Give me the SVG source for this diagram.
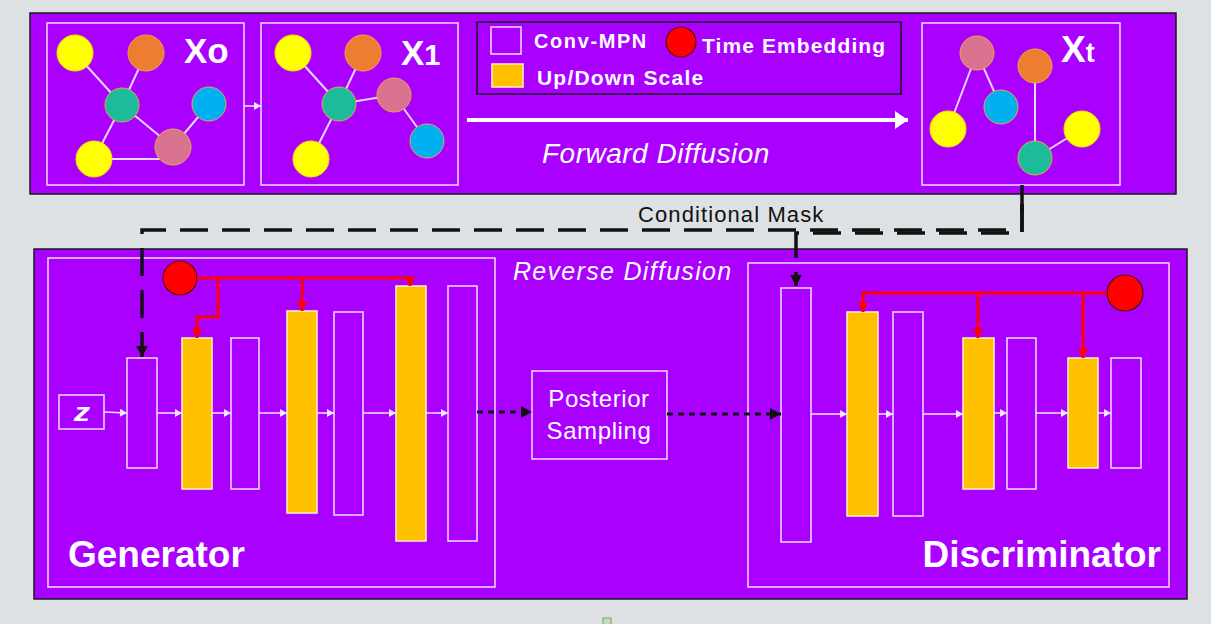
<svg xmlns="http://www.w3.org/2000/svg" width="1211" height="624" viewBox="0 0 1211 624">
  <style>
    .panel { fill: #AA00FF; stroke: #1a1a1a; stroke-width: 1.5; }
    .frame { fill: none; stroke: #F0E0FF; stroke-width: 1.5; }
    .conv { fill: #AA00FF; stroke: #F0E0FF; stroke-width: 1.5; }
    .scale { fill: #FFC000; stroke: #FFF3C0; stroke-width: 1.5; }
    .edge { stroke: #EAD6FF; stroke-width: 2; fill: none; }
    .node { stroke: #E9A646; stroke-width: 1; }
    .yel { fill: #FFFF00; stroke: #F5E000; }
    .org { fill: #ED7D31; }
    .teal { fill: #1CBC9B; }
    .blue { fill: #00B0F0; }
    .pink { fill: #D9738F; }
    .temb { fill: #FF0000; stroke: #5a0000; stroke-width: 1.2; }
    .red { stroke: #FF0000; stroke-width: 3; fill: none; }
    .flow { stroke: #F3E6FF; stroke-width: 1.5; fill: none; }
    .dots { stroke: #111; stroke-width: 3; stroke-dasharray: 6 5; fill: none; }
    .mask { stroke: #111; stroke-width: 3.5; stroke-dasharray: 28 14; fill: none; }
    .t { font-family: "Liberation Sans", Arial, sans-serif; fill: #fff; }
    .b { font-weight: bold; }
    .i { font-style: italic; }
  </style>
  <defs>
    <marker id="ah-red" markerUnits="userSpaceOnUse" markerWidth="13" markerHeight="11" viewBox="0 0 11 13" refX="11" refY="6.5" orient="auto">
      <path d="M0,0 L11,6.5 L0,13 z" fill="#FF0000"/>
    </marker>
    <marker id="ah-black" markerUnits="userSpaceOnUse" markerWidth="12" markerHeight="12" viewBox="0 0 11 12" refX="11" refY="6" orient="auto">
      <path d="M0,0 L11,6 L0,12 z" fill="#111"/>
    </marker>
    <marker id="ah-white" markerUnits="userSpaceOnUse" markerWidth="8" markerHeight="8" viewBox="0 0 7 8" refX="7" refY="4" orient="auto">
      <path d="M0,0 L7,4 L0,8 z" fill="#F3E6FF"/>
    </marker>
    <marker id="ah-big" markerUnits="userSpaceOnUse" markerWidth="14" markerHeight="18" viewBox="0 0 13 18" refX="13" refY="9" orient="auto">
      <path d="M0,0 L13,9 L0,18 z" fill="#fff"/>
    </marker>
  </defs>

  <!-- page background -->
  <rect x="0" y="0" width="1211" height="624" fill="#DEE1E3"/>

  <!-- forward diffusion panel -->
  <g id="forward-panel">
    <rect class="panel" x="30" y="13" width="1146" height="181"/>
    <text class="t i" x="542" y="163" font-size="28" letter-spacing="0.5">Forward Diffusion</text>
  </g>

  <!-- reverse diffusion panel -->
  <g id="reverse-panel">
    <rect class="panel" x="34" y="249" width="1153" height="350"/>
    <text class="t i" x="513" y="280" font-size="25" letter-spacing="1.3">Reverse Diffusion</text>
  </g>

  <!-- graph snapshot x0 -->
  <g id="snapshot-x0">
    <rect class="frame" x="47" y="23" width="197" height="162"/>
    <line class="edge" x1="75" y1="53" x2="122" y2="105"/>
    <line class="edge" x1="146" y1="53" x2="122" y2="105" stroke-width="3"/>
    <line class="edge" x1="122" y1="105" x2="94" y2="159"/>
    <line class="edge" x1="122" y1="105" x2="173" y2="147"/>
    <line class="edge" x1="173" y1="147" x2="209" y2="104"/>
    <line class="edge" x1="94" y1="159" x2="162" y2="159"/>
    <circle class="node yel" cx="75" cy="53" r="18"/>
    <circle class="node org" cx="146" cy="53" r="18"/>
    <circle class="node teal" cx="122" cy="105" r="17"/>
    <circle class="node blue" cx="209" cy="104" r="17"/>
    <circle class="node yel" cx="94" cy="159" r="18"/>
    <circle class="node pink" cx="173" cy="147" r="18"/>
    <text class="t b" x="184" y="63" font-size="35">Xo</text>
  </g>

  <!-- graph snapshot x1 -->
  <g id="snapshot-x1">
    <rect class="frame" x="261" y="23" width="197" height="162"/>
    <line class="edge" x1="293" y1="53" x2="339" y2="104"/>
    <line class="edge" x1="363" y1="53" x2="339" y2="104"/>
    <line class="edge" x1="339" y1="104" x2="311" y2="159"/>
    <line class="edge" x1="339" y1="104" x2="394" y2="95"/>
    <line class="edge" x1="394" y1="95" x2="427" y2="141"/>
    <circle class="node yel" cx="293" cy="53" r="18"/>
    <circle class="node org" cx="363" cy="53" r="18"/>
    <circle class="node teal" cx="339" cy="104" r="17"/>
    <circle class="node pink" cx="394" cy="95" r="17"/>
    <circle class="node blue" cx="427" cy="141" r="17"/>
    <circle class="node yel" cx="311" cy="159" r="18"/>
    <text class="t b" x="401" y="65" font-size="35">X<tspan font-size="29">1</tspan></text>
  </g>

  <!-- graph snapshot xt -->
  <g id="snapshot-xt">
    <rect class="frame" x="922" y="23" width="198" height="162"/>
    <line class="edge" x1="977" y1="53" x2="948" y2="129"/>
    <line class="edge" x1="977" y1="53" x2="1001" y2="107"/>
    <line class="edge" x1="1035" y1="66" x2="1035" y2="158"/>
    <line class="edge" x1="1082" y1="129" x2="1035" y2="158"/>
    <circle class="node pink" cx="977" cy="53" r="17"/>
    <circle class="node org" cx="1035" cy="66" r="17"/>
    <circle class="node blue" cx="1001" cy="107" r="17"/>
    <circle class="node yel" cx="948" cy="129" r="18"/>
    <circle class="node yel" cx="1082" cy="129" r="18"/>
    <circle class="node teal" cx="1035" cy="158" r="17"/>
    <text class="t b" x="1061" y="62" font-size="37">X<tspan font-size="27">t</tspan></text>
  </g>

  <!-- legend -->
  <g id="legend">
    <rect x="477" y="22" width="424" height="72" fill="#AA00FF" stroke="#1a1a1a" stroke-width="1.5"/>
    <rect class="conv" x="491" y="27" width="30" height="27"/>
    <text class="t b" x="534" y="48" font-size="20" letter-spacing="1.6">Conv-MPN</text>
    <circle class="temb" cx="681" cy="42" r="15"/>
    <text class="t b" x="702" y="53" font-size="21" letter-spacing="1.1">Time Embedding</text>
    <rect class="scale" x="492" y="64" width="31" height="23"/>
    <text class="t b" x="537" y="85" font-size="21" letter-spacing="1.2">Up/Down Scale</text>
  </g>

  <!-- generator -->
  <g id="generator">
    <rect class="frame" x="48" y="258" width="447" height="329"/>
    <text class="t b" x="68" y="567" font-size="37">Generator</text>
  </g>
  <g id="gen-noise">
    <rect class="conv" x="59" y="395" width="45" height="34"/>
    <text class="t i b" x="82" y="421" font-size="26" text-anchor="middle" transform="translate(82 412) scale(1.25 1) translate(-82 -412)">z</text>
  </g>
  <g id="gen-time-embedding"><circle class="temb" cx="180" cy="278" r="17"/></g>
  <g id="gen-conv-1"><rect class="conv" x="127" y="358" width="30" height="110"/></g>
  <g id="gen-scale-1"><rect class="scale" x="182" y="338" width="30" height="151"/></g>
  <g id="gen-conv-2"><rect class="conv" x="231" y="338" width="28" height="151"/></g>
  <g id="gen-scale-2"><rect class="scale" x="287" y="311" width="30" height="202"/></g>
  <g id="gen-conv-3"><rect class="conv" x="334" y="312" width="29" height="203"/></g>
  <g id="gen-scale-3"><rect class="scale" x="396" y="286" width="30" height="255"/></g>
  <g id="gen-conv-4"><rect class="conv" x="448" y="286" width="29" height="255"/></g>

  <!-- posterior sampling -->
  <g id="posterior-sampling">
    <rect class="conv" x="532" y="371" width="135" height="88"/>
    <text class="t" x="599" y="407" font-size="24" text-anchor="middle" letter-spacing="0.6">Posterior</text>
    <text class="t" x="599" y="439" font-size="24" text-anchor="middle" letter-spacing="0.6">Sampling</text>
  </g>

  <!-- discriminator -->
  <g id="discriminator">
    <rect class="frame" x="748" y="263" width="421" height="324"/>
    <text class="t b" x="1161" y="567" font-size="37" text-anchor="end">Discriminator</text>
  </g>
  <g id="disc-time-embedding"><circle class="temb" cx="1125" cy="293" r="18"/></g>
  <g id="disc-conv-1"><rect class="conv" x="781" y="288" width="30" height="254"/></g>
  <g id="disc-scale-1"><rect class="scale" x="847" y="312" width="31" height="204"/></g>
  <g id="disc-conv-2"><rect class="conv" x="893" y="312" width="30" height="204"/></g>
  <g id="disc-scale-2"><rect class="scale" x="963" y="338" width="31" height="151"/></g>
  <g id="disc-conv-3"><rect class="conv" x="1007" y="338" width="29" height="151"/></g>
  <g id="disc-scale-3"><rect class="scale" x="1068" y="358" width="30" height="110"/></g>
  <g id="disc-conv-4"><rect class="conv" x="1111" y="358" width="30" height="110"/></g>

  <!-- connectors -->
  <g id="connectors">
    <!-- forward diffusion -->
    <line class="flow" x1="244" y1="106" x2="261" y2="106" marker-end="url(#ah-white)"/>
    <line x1="467" y1="120" x2="908" y2="120" stroke="#fff" stroke-width="4" marker-end="url(#ah-big)"/>

    <!-- conditional mask from x_t -->
    <line x1="1022" y1="185" x2="1022" y2="213" stroke="#111" stroke-width="3.5"/>
    <path class="mask" d="M1022,204 V233 H796 V286" marker-end="url(#ah-black)"/>
    <path class="mask" d="M1022,204 V230 H142 V357" marker-end="url(#ah-black)"/>
    <text x="638" y="222" font-family="'Liberation Sans', Arial, sans-serif" font-size="22" letter-spacing="1.1" fill="#111">Conditional Mask</text>

    <!-- generator data flow -->
    <line class="flow" x1="104" y1="412" x2="127" y2="413" marker-end="url(#ah-white)"/>
    <line class="flow" x1="157" y1="413" x2="182" y2="413" marker-end="url(#ah-white)"/>
    <line class="flow" x1="212" y1="413" x2="231" y2="413" marker-end="url(#ah-white)"/>
    <line class="flow" x1="259" y1="413" x2="287" y2="413" marker-end="url(#ah-white)"/>
    <line class="flow" x1="317" y1="413" x2="334" y2="413" marker-end="url(#ah-white)"/>
    <line class="flow" x1="363" y1="413" x2="396" y2="413" marker-end="url(#ah-white)"/>
    <line class="flow" x1="426" y1="413" x2="448" y2="413" marker-end="url(#ah-white)"/>

    <!-- generator time embedding -->
    <path class="red" d="M197,278 H410" />
    <line class="red" x1="410" y1="278" x2="410" y2="286" marker-end="url(#ah-red)"/>
    <path class="red" d="M218,278 V317 H197 V338" marker-end="url(#ah-red)"/>
    <line class="red" x1="302" y1="278" x2="302" y2="311" marker-end="url(#ah-red)"/>

    <!-- sampling path -->
    <line class="dots" x1="477" y1="412" x2="532" y2="412" marker-end="url(#ah-black)"/>
    <line class="dots" x1="667" y1="414" x2="781" y2="414" marker-end="url(#ah-black)"/>

    <!-- discriminator data flow -->
    <line class="flow" x1="811" y1="414" x2="847" y2="414" marker-end="url(#ah-white)"/>
    <line class="flow" x1="878" y1="414" x2="893" y2="414" marker-end="url(#ah-white)"/>
    <line class="flow" x1="923" y1="414" x2="963" y2="414" marker-end="url(#ah-white)"/>
    <line class="flow" x1="994" y1="413" x2="1007" y2="413" marker-end="url(#ah-white)"/>
    <line class="flow" x1="1036" y1="413" x2="1068" y2="413" marker-end="url(#ah-white)"/>
    <line class="flow" x1="1098" y1="413" x2="1111" y2="413" marker-end="url(#ah-white)"/>

    <!-- discriminator time embedding -->
    <path class="red" d="M1107,293 H863 V312" marker-end="url(#ah-red)"/>
    <line class="red" x1="978" y1="293" x2="978" y2="338" marker-end="url(#ah-red)"/>
    <line class="red" x1="1083" y1="293" x2="1083" y2="358" marker-end="url(#ah-red)"/>
  </g>

  <!-- small mark under the reverse panel -->
  <rect x="603" y="618" width="8" height="8" fill="#B9E3B0" stroke="#8a8f8a" stroke-width="1"/>
</svg>
